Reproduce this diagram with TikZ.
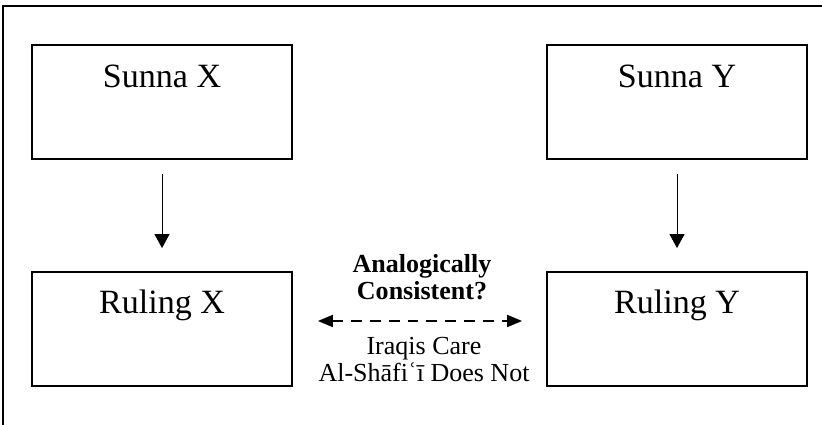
\documentclass[tikz,border=0pt]{standalone}
\usepackage{fontspec}
\setmainfont{Liberation Serif}
\usetikzlibrary{arrows.meta}

\begin{document}
\begin{tikzpicture}[x=0.025cm,y=-0.025cm,
  box/.style={draw,line width=1.3pt,minimum width=6.5cm,minimum height=2.85cm,inner sep=0pt},
  boxtext/.style={anchor=base,font=\fontsize{24.2}{29}\selectfont},
  midtext/.style={anchor=base,align=center,font=\fontsize{18.5}{19.8}\selectfont},
  flow/.style={-{Triangle[length=0.35cm,width=0.375cm]},line width=0.7pt,shorten <=0.35cm,shorten >=0.575cm},
  compare/.style={{Triangle[length=0.37cm,width=0.3cm]}-{Triangle[length=0.37cm,width=0.3cm]},dash pattern=on 0.27cm off 0.2cm,line width=1pt,shorten <=0.625cm,shorten >=0.6cm}]
\useasboundingbox (0,0) rectangle (822,425);

% Outer frame (cut off at right and bottom)
\draw[line width=1.4pt] (3,425) -- (3,6) -- (822,6);

% Sunna boxes
\node[box] (sunnaX) at (162,102) {};
\node[boxtext] (sunnaXtext) at (162,88) {Sunna X};
\node[box] (sunnaY) at (677,102) {};
\node[boxtext] (sunnaYtext) at (677,88) {Sunna Y};

% Ruling boxes
\node[box] (rulingX) at (162,329) {};
\node[boxtext] (rulingXtext) at (162,314) {Ruling X};
\node[box] (rulingY) at (677,329) {};
\node[boxtext] (rulingYtext) at (677,314) {Ruling Y};

% Sunna leads to ruling
\draw[flow] (sunnaX) -- (rulingX);
\draw[flow] (sunnaY) -- (rulingY);

% Comparison between the rulings
\draw[compare] ([yshift=0.2cm]rulingX.east) -- ([yshift=0.2cm]rulingY.west);
\node[midtext,font=\fontsize{18.5}{19.8}\selectfont\bfseries] (question) at (422,300) {Analogically\\Consistent?};
\node[midtext] (views) at (424,382) {Iraqis Care\\Al-Shāfiʿī Does Not};
\end{tikzpicture}
\end{document}
